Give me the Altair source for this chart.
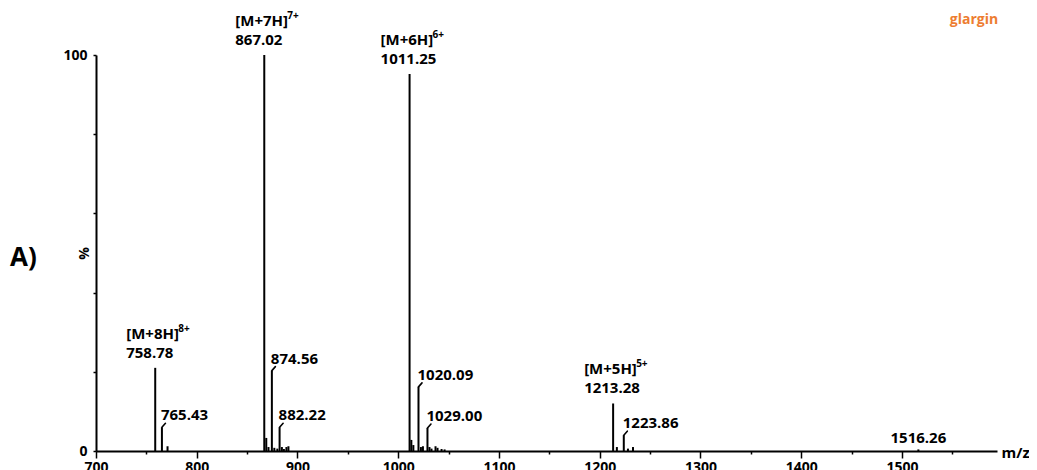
import altair as alt
import pandas as pd

# ---- data ----
peak_mz = [758.78, 765.43, 771.0,
           867.02, 869.0, 871.2, 874.56, 877.0, 880.0, 882.22, 884.5, 886.5, 889.0, 891.0,
           1011.25, 1013.0, 1015.0, 1020.09, 1022.5, 1024.5, 1029.00, 1031.0, 1033.0,
           1037.0, 1039.0, 1043.0, 1046.0,
           1213.28, 1217.0, 1223.86, 1228.0, 1233.0,
           1516.26]
peak_int = [21.0, 6.0, 1.2,
            100.0, 3.3, 1.0, 20.3, 0.8, 0.6, 6.0, 1.0, 0.5, 1.0, 1.2,
            95.2, 2.8, 1.5, 16.2, 1.0, 1.2, 5.8, 1.0, 0.6,
            1.2, 0.8, 0.5, 0.4,
            12.0, 1.0, 4.0, 0.6, 1.0,
            0.4]

ion_mz = [758.78, 867.02, 1011.25, 1213.28]
ion_int = [21.0, 100.0, 95.2, 12.0]
ion_value = ["758.78", "867.02", "1011.25", "1213.28"]
ion_name = ["[M+8H]", "[M+7H]", "[M+6H]", "[M+5H]"]
ion_charge = ["8+", "7+", "6+", "5+"]

hook_mz = [765.43, 874.56, 882.22, 1020.09, 1029.00, 1223.86]
hook_int = [6.0, 20.3, 6.0, 16.2, 5.8, 4.0]
hook_label = ["765.43", "874.56", "882.22", "1020.09", "1029.00", "1223.86"]

small_mz = [1516.26]
small_int = [0.4]
small_label = ["1516.26"]

x_ticks = list(range(700, 1600, 25))
y_ticks = list(range(0, 101, 10))

peaks = pd.DataFrame({"mz": peak_mz, "int": peak_int})
ions = pd.DataFrame({"mz": ion_mz, "int": ion_int, "value": ion_value,
                     "name": ion_name, "charge": ion_charge})
hooks = pd.DataFrame({"mz": hook_mz, "int": hook_int, "label": hook_label})
smalls = pd.DataFrame({"mz": small_mz, "int": small_int, "label": small_label})

FONT = "Open Sans"

xscale = alt.Scale(domain=[700, 1594.3], nice=False, zero=False)
yscale = alt.Scale(domain=[0, 100], nice=False)

xaxis = alt.Axis(
    values=x_ticks, format="d", title="m/z",
    labelExpr="datum.value % 100 === 0 ? datum.label : ''",
    tickSize={"condition": {"test": "datum.value % 100 === 0", "value": 7}, "value": 3},
    tickWidth=1.5, domainWidth=2, domainColor="black", tickColor="black",
    labelFont=FONT, labelFontWeight="bold", labelFontSize=14, labelColor="black",
    labelPadding=2, labelFlush=False, labelOverlap=False,
    titleFont=FONT, titleFontWeight="bold", titleFontSize=15, titleColor="black",
    titleX=905, titleY=1, titleAlign="left", titleBaseline="middle", titleAngle=0,
    grid=False,
)
yaxis = alt.Axis(
    values=y_ticks, title="%",
    labelExpr="datum.value === 0 || datum.value === 100 ? datum.label : ''",
    tickSize=3, tickWidth=1.5, domainWidth=2, domainColor="black", tickColor="black",
    labelFont=FONT, labelFontWeight="bold", labelFontSize=14, labelColor="black",
    labelPadding=6, labelFlush=False, labelOverlap=False,
    titleFont=FONT, titleFontWeight="bold", titleFontSize=14, titleColor="black",
    titleX=-12, titleY=198, titleAngle=-90, titleAlign="center", titleBaseline="middle",
    grid=False,
)

sticks = alt.Chart(peaks).mark_rule(color="black", strokeWidth=2).encode(
    x=alt.X("mz:Q", scale=xscale, axis=xaxis),
    y=alt.Y("int:Q", scale=yscale, axis=yaxis),
    y2=alt.datum(0),
)

hook_lines = alt.Chart(hooks).transform_calculate(
    hx="datum.mz + 3.5", hy="datum.int + 1.0"
).mark_rule(color="black", strokeWidth=1.6, strokeCap="round").encode(
    x="mz:Q", y="int:Q", x2="hx:Q", y2="hy:Q"
)

txt = dict(font=FONT, fontWeight="bold", color="black", baseline="alphabetic")

ion_num = alt.Chart(ions).mark_text(align="left", dx=-29, dy=-10, fontSize=15, **txt).encode(
    x="mz:Q", y="int:Q", text="value:N")
ion_lab = alt.Chart(ions).mark_text(align="left", dx=-29, dy=-29, fontSize=15, **txt).encode(
    x="mz:Q", y="int:Q", text="name:N")
ion_chg = alt.Chart(ions).mark_text(align="left", dx=23, dy=-36, fontSize=10, **txt).encode(
    x="mz:Q", y="int:Q", text="charge:N")
hook_txt = alt.Chart(hooks).mark_text(align="left", dx=-1, dy=-7, fontSize=15, **txt).encode(
    x="mz:Q", y="int:Q", text="label:N")
small_txt = alt.Chart(smalls).mark_text(align="center", dy=-6, fontSize=15, **txt).encode(
    x="mz:Q", y="int:Q", text="label:N")

panel = alt.Chart(pd.DataFrame({"t": ["A)"]})).mark_text(
    align="left", baseline="middle", font=FONT, fontWeight="bold", fontSize=26, color="black"
).encode(x=alt.value(-86), y=alt.value(203), text="t:N")
name = alt.Chart(pd.DataFrame({"t": ["glargin"]})).mark_text(
    align="center", baseline="middle", font=FONT, fontWeight="bold", fontSize=14, color="#ED7D31"
).encode(x=alt.value(878), y=alt.value(-35), text="t:N")

chart = alt.layer(
    sticks, hook_lines, ion_num, ion_lab, ion_chg, hook_txt, small_txt, panel, name
).properties(
    width=901, height=396,
    autosize=alt.AutoSizeParams(type="none"),
    padding={"left": 88, "top": 47, "right": 32, "bottom": 19},
).configure_view(stroke=None)

chart.save("out.html", embed_options={"renderer": "svg", "actions": False})
